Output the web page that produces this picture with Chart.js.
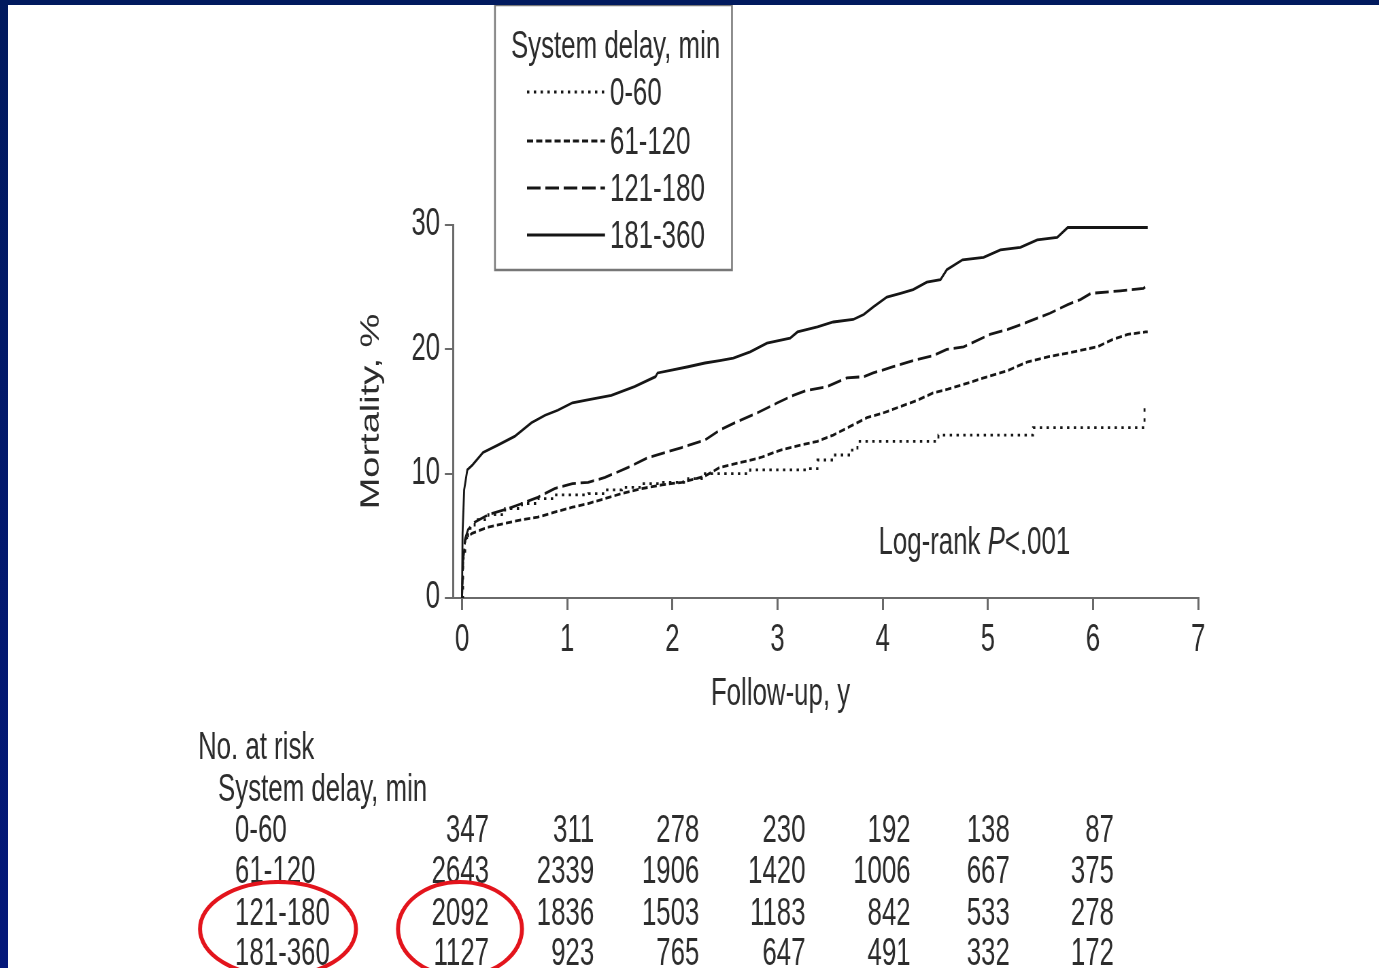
<!DOCTYPE html>
<html>
<head>
<meta charset="utf-8">
<title>Mortality by system delay</title>
<script src="https://cdn.jsdelivr.net/npm/chart.js@4.4.1/dist/chart.umd.min.js"></script>
<style>
  html, body { margin: 0; padding: 0; background: #fff; }
  #wrap { position: relative; width: 1379px; height: 968px; overflow: hidden; background: #fff; }
  #mort { position: absolute; left: 0; top: 0; }
  .bar-top { position: absolute; left: 0; top: 0; width: 1379px; height: 5px; background: #011a5e; }
  .bar-left { position: absolute; left: 0; top: 0; width: 8px; height: 968px; background: linear-gradient(#011a5e, #04187a); }
</style>
</head>
<body>
<div id="wrap">
  <canvas id="mort" width="2028" height="968" style="width:1379px;height:968px"></canvas>
  <div class="bar-top"></div>
  <div class="bar-left"></div>
</div>
<script>
// Kaplan-Meier mortality, years of follow-up vs cumulative %
const groups = ['0-60', '61-120', '121-180', '181-360'];

const years0_60 = [0, 0.01, 0.03, 0.057, 0.12, 0.25, 0.41, 0.57, 0.72, 0.88, 1.20, 1.36, 1.52, 1.71, 1.90, 2.15, 2.28, 2.74, 3.31, 3.38, 3.53, 3.69, 3.76, 4.53, 5.43, 6.48, 6.49];
const mort0_60 = [0, 3.2, 5.0, 5.6, 6.3, 6.7, 7.2, 7.6, 8.0, 8.3, 8.4, 8.7, 8.9, 9.2, 9.3, 9.6, 10.0, 10.3, 10.4, 11.1, 11.5, 11.9, 12.6, 13.1, 13.7, 13.7, 15.5];

const years61_120 = [0, 0.01, 0.03, 0.095, 0.25, 0.41, 0.57, 0.72, 0.88, 1.05, 1.20, 1.36, 1.52, 1.71, 1.90, 2.09, 2.31, 2.45, 2.65, 2.84, 3.03, 3.22, 3.38, 3.53, 3.69, 3.85, 4.01, 4.17, 4.33, 4.48, 4.62, 4.74, 4.96, 5.19, 5.38, 5.57, 5.76, 6.04, 6.19, 6.33, 6.50, 6.52];
const mort61_120 = [0, 3.0, 4.7, 5.2, 5.7, 6.0, 6.3, 6.5, 6.9, 7.3, 7.6, 8.0, 8.4, 8.8, 9.1, 9.3, 9.8, 10.5, 10.9, 11.3, 11.9, 12.3, 12.6, 13.1, 13.8, 14.5, 14.9, 15.4, 15.9, 16.5, 16.8, 17.1, 17.7, 18.3, 19.0, 19.4, 19.7, 20.2, 20.8, 21.2, 21.4, 21.4];

const years121_180 = [0, 0.01, 0.03, 0.057, 0.12, 0.25, 0.44, 0.57, 0.72, 0.88, 1.05, 1.20, 1.36, 1.58, 1.77, 1.93, 2.09, 2.31, 2.45, 2.62, 2.81, 3.00, 3.15, 3.28, 3.47, 3.66, 3.82, 3.91, 4.10, 4.29, 4.48, 4.61, 4.77, 5.02, 5.19, 5.38, 5.59, 5.76, 5.88, 5.98, 6.26, 6.48, 6.52];
const mort121_180 = [0, 3.0, 4.8, 5.5, 6.1, 6.7, 7.2, 7.6, 8.1, 8.8, 9.2, 9.3, 9.7, 10.5, 11.3, 11.7, 12.1, 12.7, 13.5, 14.2, 14.9, 15.7, 16.3, 16.7, 17.0, 17.7, 17.8, 18.1, 18.6, 19.1, 19.5, 20.0, 20.2, 21.2, 21.6, 22.2, 22.9, 23.6, 24.0, 24.5, 24.7, 24.9, 25.2];

const years181_360 = [0, 0.005, 0.02, 0.05, 0.1, 0.2, 0.34, 0.5, 0.66, 0.79, 0.91, 1.05, 1.17, 1.42, 1.64, 1.84, 1.86, 2.15, 2.31, 2.45, 2.58, 2.74, 2.90, 3.12, 3.19, 3.38, 3.53, 3.72, 3.82, 3.91, 4.04, 4.17, 4.29, 4.42, 4.55, 4.61, 4.76, 4.96, 5.12, 5.31, 5.47, 5.66, 5.76, 6.52];
const mort181_360 = [0, 5.2, 8.7, 10.3, 10.7, 11.7, 12.3, 13.0, 14.1, 14.7, 15.1, 15.7, 15.9, 16.3, 17.0, 17.8, 18.1, 18.6, 18.9, 19.1, 19.3, 19.8, 20.5, 20.9, 21.4, 21.8, 22.2, 22.4, 22.8, 23.4, 24.2, 24.5, 24.8, 25.4, 25.6, 26.4, 27.2, 27.4, 28.0, 28.2, 28.8, 29.0, 29.8, 29.8];

// number at risk table
const atRiskYears = [0, 1, 2, 3, 4, 5, 6];
const atRisk0_60 = [347, 311, 278, 230, 192, 138, 87];
const atRisk61_120 = [2643, 2339, 1906, 1420, 1006, 667, 375];
const atRisk121_180 = [2092, 1836, 1503, 1183, 842, 533, 278];
const atRisk181_360 = [1127, 923, 765, 647, 491, 332, 172];

const xTicks = [0, 1, 2, 3, 4, 5, 6, 7];
const yTicks = [0, 10, 20, 30];

// the lettering is a narrow face: canvas is drawn wide then squeezed to page width
const SQUEEZE = 0.68;
const px = v => v / SQUEEZE;   // page x -> canvas x
const INK = '#2c2c2c';
const AXIS = '#6a6a6a';
const FAMILY = "'Liberation Sans', Arial, sans-serif";
const FONT = '38px ' + FAMILY;
const colNudge = [27, 27, 27, 28, 28, 22, 21];  // right edge of each at-risk column past its tick

const pts = (xs, ys) => xs.map((x, i) => ({ x: x, y: ys[i] }));

const series = [
  { label: groups[0], data: pts(years0_60, mort0_60), dash: [3.5, 6.5], stepped: true },
  { label: groups[1], data: pts(years61_120, mort61_120), dash: [9, 4.5], stepped: false },
  { label: groups[2], data: pts(years121_180, mort121_180), dash: [20, 7], stepped: false },
  { label: groups[3], data: pts(years181_360, mort181_360), dash: [], stepped: false }
];

const atRisk = [atRisk0_60, atRisk61_120, atRisk121_180, atRisk181_360];

const extras = {
  id: 'extras',
  afterDraw(chart) {
    const ctx = chart.ctx;
    const xs = chart.scales.x, ys = chart.scales.y;
    ctx.save();
    ctx.fillStyle = INK;
    ctx.font = FONT;
    ctx.textBaseline = 'middle';

    // x title
    ctx.textAlign = 'center';
    ctx.fillText('Follow-up, y', xs.getPixelForValue(3) + px(3), 695);

    // log-rank note
    let lx = xs.getPixelForValue(3.96);
    const ly = ys.getPixelForValue(4.6) + 3;
    ctx.textAlign = 'left';
    ctx.fillText('Log-rank ', lx, ly);
    lx += ctx.measureText('Log-rank ').width;
    ctx.font = 'italic ' + FONT;
    ctx.fillText('P', lx, ly);
    lx += ctx.measureText('P').width;
    ctx.font = FONT;
    ctx.fillText('<.001', lx, ly);

    // legend box
    const bl = px(495), br = px(732), bt = 5, bb = 270;
    ctx.fillStyle = '#fff';
    ctx.fillRect(bl, bt, br - bl, bb - bt);
    ctx.strokeStyle = '#777';
    ctx.lineWidth = 2.5;
    ctx.strokeRect(bl, bt, br - bl, bb - bt);
    ctx.fillStyle = INK;
    ctx.fillText('System delay, min', px(511), 48);
    const rows = [95, 144, 191, 238];
    chart.data.datasets.forEach((ds, i) => {
      ctx.beginPath();
      ctx.setLineDash(ds.borderDash || []);
      ctx.strokeStyle = ds.borderColor;
      ctx.lineWidth = ds.borderWidth;
      ctx.moveTo(px(527), rows[i] - 3);
      ctx.lineTo(px(605), rows[i] - 3);
      ctx.stroke();
      ctx.setLineDash([]);
      ctx.fillText(ds.label, px(610), rows[i]);
    });

    // number at risk
    ctx.fillText('No. at risk', px(198), 749);
    ctx.fillText('System delay, min', px(218), 791);
    const riskRows = [832, 873, 915, 955];
    groups.forEach((g, r) => {
      ctx.textAlign = 'left';
      ctx.fillText(g, px(235), riskRows[r]);
      ctx.textAlign = 'right';
      atRiskYears.forEach((yr, c) => {
        ctx.fillText(String(atRisk[r][c]), xs.getPixelForValue(yr) + px(colNudge[c]), riskRows[r]);
      });
    });

    // red rings round the 121-180 / 181-360 rows
    ctx.save();
    ctx.scale(1 / SQUEEZE, 1);
    ctx.strokeStyle = '#e3141c';
    ctx.lineWidth = 4;
    ctx.beginPath();
    ctx.ellipse(278, 929, 78, 47, 0, 0, Math.PI * 2);
    ctx.stroke();
    ctx.beginPath();
    ctx.ellipse(460, 929, 62, 47, 0, 0, Math.PI * 2);
    ctx.stroke();
    ctx.restore();

    ctx.restore();
  }
};

new Chart(document.getElementById('mort'), {
  type: 'line',
  data: {
    datasets: series.map(s => ({
      label: s.label,
      data: s.data,
      borderColor: '#161616',
      borderWidth: 2.8,
      borderDash: s.dash,
      stepped: s.stepped,
      pointRadius: 0,
      fill: false,
      tension: 0
    }))
  },
  options: {
    responsive: false,
    animation: false,
    devicePixelRatio: 1,
    layout: { padding: { left: 0, right: 266, top: 225, bottom: 270 } },
    plugins: { legend: { display: false }, tooltip: { enabled: false } },
    scales: {
      x: {
        type: 'linear',
        min: -0.086,
        max: 7,
        afterBuildTicks: s => { s.ticks = xTicks.map(v => ({ value: v })); },
        afterFit: s => { s.height = 100; },
        grid: { drawOnChartArea: false, drawTicks: true, tickLength: 12, color: AXIS, lineWidth: 3 },
        border: { display: true, color: AXIS, width: 2 },
        ticks: { color: INK, padding: 8, font: { family: FAMILY, size: 38 }, maxRotation: 0 }
      },
      y: {
        min: 0,
        max: 30,
        afterBuildTicks: s => { s.ticks = yTicks.map(v => ({ value: v })); },
        afterFit: s => { s.width = px(453); },
        grid: { drawOnChartArea: false, drawTicks: true, tickLength: 12, color: AXIS, lineWidth: 2 },
        border: { display: true, color: AXIS, width: 3 },
        ticks: { color: INK, padding: 7, font: { family: FAMILY, size: 38 } },
        title: {
          display: true,
          text: 'Mortality, %',
          color: INK,
          font: { family: FAMILY, size: 38 },
          padding: { top: px(372) - 23, bottom: 0 }
        }
      }
    }
  },
  plugins: [extras]
});
</script>
</body>
</html>
